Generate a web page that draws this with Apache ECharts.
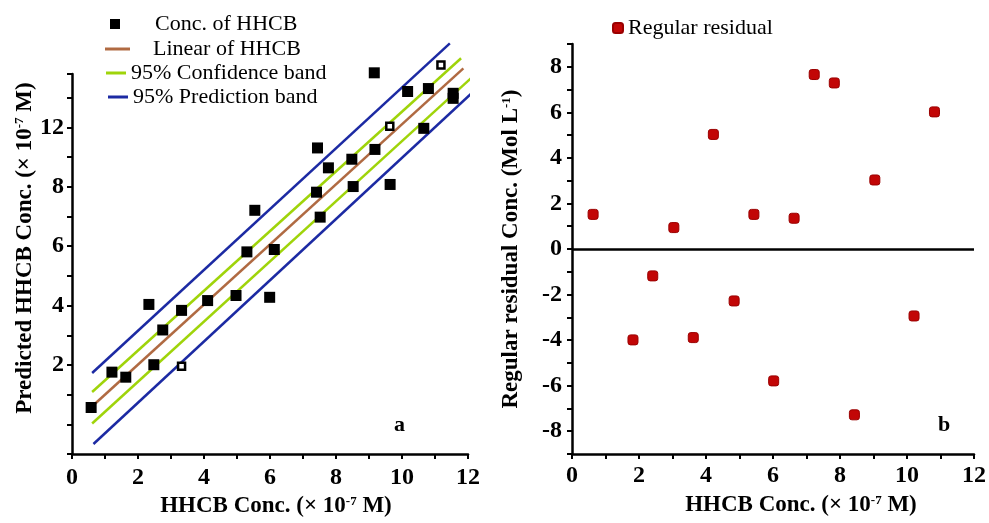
<!DOCTYPE html>
<html>
<head>
<meta charset="utf-8">
<script src="https://cdn.jsdelivr.net/npm/echarts@6/dist/echarts.min.js"></script>
<style>
  html, body { margin: 0; padding: 0; background: #fff; }
  #main { width: 989px; height: 523px; }
</style>
</head>
<body>
<div id="main"></div>
<script>
// a: 预测值 vs 实测值
var hhcbX = [0.58, 1.21, 1.63, 2.33, 2.75, 2.48, 3.32, 4.11, 4.97, 5.30, 5.54, 6.13, 5.99, 7.44, 7.77, 7.41, 7.52, 8.48, 8.52, 9.18, 9.16, 9.64, 10.17, 10.80, 10.66, 11.55, 11.55];
var hhcbY = [0.57, 1.76, 1.59, 4.04, 3.18, 2.01, 3.84, 4.17, 4.34, 5.81, 7.21, 5.89, 4.28, 9.31, 8.64, 7.82, 6.98, 8.93, 8.01, 9.26, 11.84, 8.08, 11.21, 11.31, 9.97, 10.98, 11.15];
// small hollow squares
var hollowX = [3.32, 9.63, 11.18];
var hollowY = [1.96, 10.04, 12.10];

var linX = [0.68, 11.86], linY = [0.68, 11.99];
var confUpX = [0.61, 11.79], confUpY = [1.09, 12.33];
var confLoX = [0.61, 12.36], confLoY = [0.03, 11.93];
var predUpX = [0.61, 11.45], predUpY = [1.73, 12.83];
var predLoX = [0.65, 12.67], predLoY = [-0.66, 11.73];

// tick labels of panel a (the "12" stands where 10 is, as in the figure)
var leftYTickValues = [2, 4, 6, 8, 10];
var leftYTickText = ['2', '4', '6', '8', '12'];
var xTickValues = [0, 2, 4, 6, 8, 10, 12];

// b: 残差
var resX = [0.63, 1.82, 2.41, 3.04, 3.62, 4.22, 4.84, 5.43, 6.02, 6.63, 7.23, 7.83, 8.43, 9.04, 10.21, 10.82];
var resY = [1.52, -3.99, -1.18, 0.94, -3.89, 5.03, -2.28, 1.52, -5.79, 1.35, 7.66, 7.29, -7.28, 3.03, -2.94, 6.02];
var rightYTickValues = [-8, -6, -4, -2, 0, 2, 4, 6, 8];

var SERIF = "'Liberation Serif', 'DejaVu Serif', serif";

function pairs(xs, ys) {
    var out = [];
    for (var i = 0; i < xs.length; i++) out.push([xs[i], ys[i]]);
    return out;
}

function pickLabel(values, texts) {
    return function (v) {
        for (var i = 0; i < values.length; i++) {
            if (Math.abs(values[i] - v) < 1e-6) return texts ? texts[i] : String(values[i]);
        }
        return '';
    };
}

var axisLineStyle = { color: '#000', width: 2.5 };
var tickLabel = { fontFamily: SERIF, fontWeight: 'bold', fontSize: 24, color: '#000' };
var nameRich = {
    sup: { fontFamily: SERIF, fontWeight: 'bold', fontSize: 13, color: '#000', verticalAlign: 'top' }
};
var nameStyle = { fontFamily: SERIF, fontWeight: 'bold', fontSize: 23, color: '#000', rich: nameRich };
var legendText = { fontFamily: SERIF, fontSize: 22, color: '#000' };

var myChart = echarts.init(document.getElementById('main'));

var option = {
    backgroundColor: '#fff',
    animation: false,
    grid: [
        { left: 72, right: 521, top: 74, bottom: 65 },
        { left: 572, right: 13, top: 44, bottom: 69 }
    ],
    legend: [
        { data: ['Conc. of HHCB'], left: 105, top: 8, itemWidth: 10, itemHeight: 10,
          textStyle: Object.assign({ padding: [0, 0, 0, 30] }, legendText) },
        { data: ['Linear of HHCB'], left: 100, top: 33, itemWidth: 25, itemHeight: 3, icon: 'rect',
          textStyle: Object.assign({ padding: [0, 0, 0, 18] }, legendText) },
        { data: ['95% Confidence band'], left: 101, top: 57, itemWidth: 20, itemHeight: 3, icon: 'rect',
          textStyle: legendText },
        { data: ['95% Prediction band'], left: 103, top: 81, itemWidth: 20, itemHeight: 3, icon: 'rect',
          textStyle: legendText },
        { data: ['Regular residual'], left: 607, top: 12, itemWidth: 10, itemHeight: 10,
          textStyle: legendText }
    ],
    xAxis: [
        {
            gridIndex: 0, type: 'value', min: 0, max: 12, interval: 1,
            name: 'HHCB Conc. (× 10{sup|-7} M)', nameLocation: 'middle', nameGap: 40,
            nameTextStyle: Object.assign({ padding: [0, 0, 0, 12] }, nameStyle),
            axisLine: { onZero: false, lineStyle: axisLineStyle },
            axisTick: { inside: false, length: 5, lineStyle: { width: 2 } },
            axisLabel: Object.assign({ margin: 12, formatter: pickLabel(xTickValues) }, tickLabel),
            splitLine: { show: false }
        },
        {
            gridIndex: 1, type: 'value', min: 0, max: 12, interval: 1,
            name: 'HHCB Conc. (× 10{sup|-7} M)', nameLocation: 'middle', nameGap: 40,
            nameTextStyle: Object.assign({ padding: [0, 0, 0, 56] }, nameStyle),
            axisLine: { onZero: false, lineStyle: axisLineStyle },
            axisTick: { inside: false, length: 5, lineStyle: { width: 2 } },
            axisLabel: Object.assign({ margin: 10, formatter: pickLabel(xTickValues) }, tickLabel),
            splitLine: { show: false }
        }
    ],
    yAxis: [
        {
            gridIndex: 0, type: 'value', min: -1, max: 11.8, interval: 1,
            name: 'Predicted HHCB Conc. (× 10{sup|-7} M)', nameLocation: 'middle', nameGap: 34,
            nameTextStyle: Object.assign({ padding: [0, 0, 0, 32] }, nameStyle),
            axisLine: { lineStyle: axisLineStyle },
            axisTick: { inside: false, length: 5, lineStyle: { width: 2 } },
            axisLabel: Object.assign({ margin: 8, formatter: pickLabel(leftYTickValues, leftYTickText) }, tickLabel),
            splitLine: { show: false }
        },
        {
            gridIndex: 1, type: 'value', min: -9, max: 9, interval: 1,
            name: 'Regular residual Conc. (Mol L{sup|-1})', nameLocation: 'middle', nameGap: 49,
            nameTextStyle: nameStyle,
            axisLine: { lineStyle: axisLineStyle },
            axisTick: { inside: false, length: 5, lineStyle: { width: 2 } },
            axisLabel: Object.assign({ margin: 10, formatter: pickLabel(rightYTickValues) }, tickLabel),
            splitLine: { show: false }
        }
    ],
    graphic: [
        { type: 'text', left: 394, top: 414, style: { text: 'a', font: 'bold 22px ' + SERIF, fill: '#000' } },
        { type: 'text', left: 938, top: 414, style: { text: 'b', font: 'bold 22px ' + SERIF, fill: '#000' } }
    ],
    series: [
        { name: '95% Prediction band', type: 'line', xAxisIndex: 0, yAxisIndex: 0, symbol: 'none', clip: false,
          lineStyle: { color: '#1c2aa3', width: 2.5 }, itemStyle: { color: '#1c2aa3' }, data: pairs(predUpX, predUpY) },
        { name: '95% Prediction band', type: 'line', xAxisIndex: 0, yAxisIndex: 0, symbol: 'none', clip: false,
          lineStyle: { color: '#1c2aa3', width: 2.5 }, itemStyle: { color: '#1c2aa3' }, data: pairs(predLoX, predLoY) },
        { name: '95% Confidence band', type: 'line', xAxisIndex: 0, yAxisIndex: 0, symbol: 'none', clip: false,
          lineStyle: { color: '#9fd40a', width: 2.5 }, itemStyle: { color: '#9fd40a' }, data: pairs(confUpX, confUpY) },
        { name: '95% Confidence band', type: 'line', xAxisIndex: 0, yAxisIndex: 0, symbol: 'none', clip: false,
          lineStyle: { color: '#9fd40a', width: 2.5 }, itemStyle: { color: '#9fd40a' }, data: pairs(confLoX, confLoY) },
        { name: 'Linear of HHCB', type: 'line', xAxisIndex: 0, yAxisIndex: 0, symbol: 'none', clip: false,
          lineStyle: { color: '#b06a42', width: 2.5 }, itemStyle: { color: '#b06a42' }, data: pairs(linX, linY) },
        { name: 'Conc. of HHCB', type: 'scatter', xAxisIndex: 0, yAxisIndex: 0, symbol: 'rect', symbolSize: 11,
          clip: false, z: 5, itemStyle: { color: '#000', opacity: 1 }, data: pairs(hhcbX, hhcbY) },
        { name: 'Conc. of HHCB', type: 'scatter', xAxisIndex: 0, yAxisIndex: 0, symbol: 'rect', symbolSize: 7,
          clip: false, z: 5, itemStyle: { color: '#fff', borderColor: '#000', borderWidth: 2.5, opacity: 1 },
          data: pairs(hollowX, hollowY) },
        { name: 'Regular residual', type: 'scatter', xAxisIndex: 1, yAxisIndex: 1, symbol: 'roundRect', symbolSize: 10,
          z: 5, itemStyle: { color: '#c20606', borderColor: '#9a0000', borderWidth: 1, opacity: 1 },
          data: pairs(resX, resY),
          markLine: { silent: true, symbol: 'none', label: { show: false },
                      lineStyle: { color: '#000', width: 2.5, type: 'solid' },
                      data: [{ yAxis: 0 }] } }
    ]
};
myChart.setOption(option);
</script>
</body>
</html>
